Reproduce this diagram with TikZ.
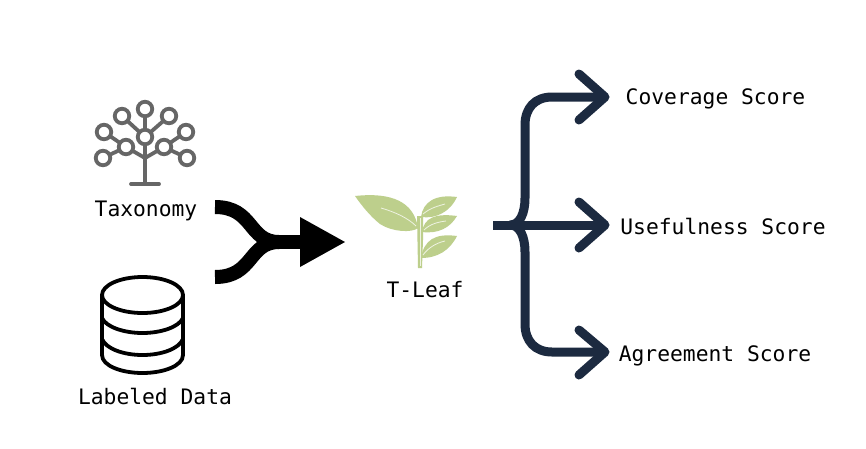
\documentclass[tikz,border=0pt]{standalone}
\usepackage{fontspec}
\setmainfont{DejaVu Sans Mono}
\definecolor{navy}{HTML}{1C2A40}
\definecolor{treegray}{HTML}{666666}
\definecolor{leafgreen}{HTML}{BDCF8C}
\tikzset{
  label text/.style={font=\fontsize{21.3}{24}\selectfont,text=black,inner sep=0pt,anchor=center},
  treeline/.style={draw=treegray,line width=3.8pt},
  treedot/.style={circle,draw=treegray,line width=3.8pt,fill=white,minimum size=14.5pt,inner sep=0pt},
  dbline/.style={draw=black,line width=3.8pt},
  mergeline/.style={draw=black,line width=14pt},
  outline/.style={draw=navy,line width=9pt},
  outhead/.style={draw=navy,line width=9pt,line cap=round,line join=round},
  vein/.style={draw=white,line width=0.8pt,opacity=0.75},
}
\begin{document}
\begin{tikzpicture}[x=1pt,y=-1pt]
\useasboundingbox[fill=white] (0,0) rectangle (866,448);
% --- tree icon
\coordinate (root) at (145,184);
\coordinate (fork) at (145,158);
\draw[treeline] (root) -- (145,137) (145,137) -- (145,109) (145,137) -- (122,116) (145,137) -- (169,116)
  (fork) -- (126,147) (fork) -- (164,147) (126,147) -- (104,132) (126,147) -- (103,158) (164,147) -- (186,132) (164,147) -- (187,158);
\draw[treeline,line cap=round] (131,184) -- (159,184);
\node[treedot] (t1) at (145,109) {};
\node[treedot] (t2) at (122,116) {};
\node[treedot] (t3) at (169,116) {};
\node[treedot] (t4) at (104,132) {};
\node[treedot] (t5) at (186,132) {};
\node[treedot] (t6) at (145,137) {};
\node[treedot] (t7) at (126,147) {};
\node[treedot] (t8) at (164,147) {};
\node[treedot] (t9) at (103,158) {};
\node[treedot] (t10) at (187,158) {};
\node[label text] (taxonomy) at (146,211) {Taxonomy};
% --- database icon
\draw[dbline,line join=round] (102,295) -- (102,355) .. controls (102,366) and (122,373) .. (142.5,373)
  .. controls (163,373) and (183,366) .. (183,355) -- (183,295);
\draw[dbline] (142.5,295) ellipse [x radius=40.5,y radius=18];
\draw[dbline] (102,318) .. controls (106,327) and (124,333) .. (142.5,333) .. controls (161,333) and (179,327) .. (183,318);
\draw[dbline] (102,339) .. controls (106,349) and (124,355) .. (142.5,355) .. controls (161,355) and (179,349) .. (183,339);
\node[label text] (data) at (155,396) {Labeled Data};
% --- merge arrow
\coordinate (mA) at (215,207);
\coordinate (mB) at (215,277);
\coordinate (mJ) at (279,242);
\coordinate (mH) at (302,242);
\coordinate (mT) at (345,242);
\draw[mergeline] (mA) .. controls (254,207) and (248,242) .. (mJ);
\draw[mergeline] (mB) .. controls (254,277) and (248,242) .. (mJ);
\draw[mergeline] (mJ) -- (mH);
\fill[black] (300,217) -- (mT) -- (300,267) -- cycle;
% --- leaf
\fill[leafgreen] (355,196) .. controls (392,192) and (414,202) .. (418,228)
  .. controls (412,233) and (392,232) .. (380,224) .. controls (370,216) and (362,206) .. cycle;
\fill[leafgreen] (417,216) -- (423,216) -- (423,240) -- (422,268) -- (418,268) -- cycle;
\fill[leafgreen] (457,197) .. controls (435,194) and (423,202) .. (421,217)
  .. controls (436,219) and (450,212) .. cycle;
\fill[leafgreen] (457,216) .. controls (435,213) and (424,218) .. (422,232)
  .. controls (438,234) and (450,228) .. cycle;
\fill[leafgreen] (457,236) .. controls (435,233) and (424,240) .. (421,258)
  .. controls (438,258) and (450,250) .. cycle;
\draw[vein] (381,208) .. controls (395,212) and (408,218) .. (416,226);
\draw[vein] (423,214) .. controls (430,208) and (438,206) .. (445,204);
\draw[vein] (424,230) .. controls (430,224) and (438,222) .. (446,221);
\draw[vein] (423,255) .. controls (428,248) and (436,243) .. (445,241);
\draw[vein] (420,218) -- (420,266);
\node[label text] (tleaf) at (425,290) {T-Leaf};
% --- output arrows
\coordinate (oS) at (493,225);
\coordinate (oJ) at (510,225);
\coordinate (oA) at (605,97);
\coordinate (oB) at (605,225);
\coordinate (oC) at (605,352);
\draw[outline] (oS) -- (oJ) -- (oB);
\draw[outline] (oJ) .. controls (520,225) and (525,213) .. (525,198) -- (525,125)
  .. controls (525,108) and (535,97) .. (552,97) -- (oA);
\draw[outline] (oJ) .. controls (520,225) and (525,237) .. (525,252) -- (525,324)
  .. controls (525,341) and (535,352) .. (552,352) -- (oC);
\draw[outhead] (579,74) -- (oA) -- (579,120);
\draw[outhead] (579,202) -- (oB) -- (579,248);
\draw[outhead] (579,330) -- (oC) -- (579,375);
\node[label text] (cov) at (715.5,98.5) {Coverage Score};
\node[label text] (use) at (723,226) {Usefulness Score};
\node[label text] (agr) at (715,356) {Agreement Score};
\end{tikzpicture}
\end{document}
